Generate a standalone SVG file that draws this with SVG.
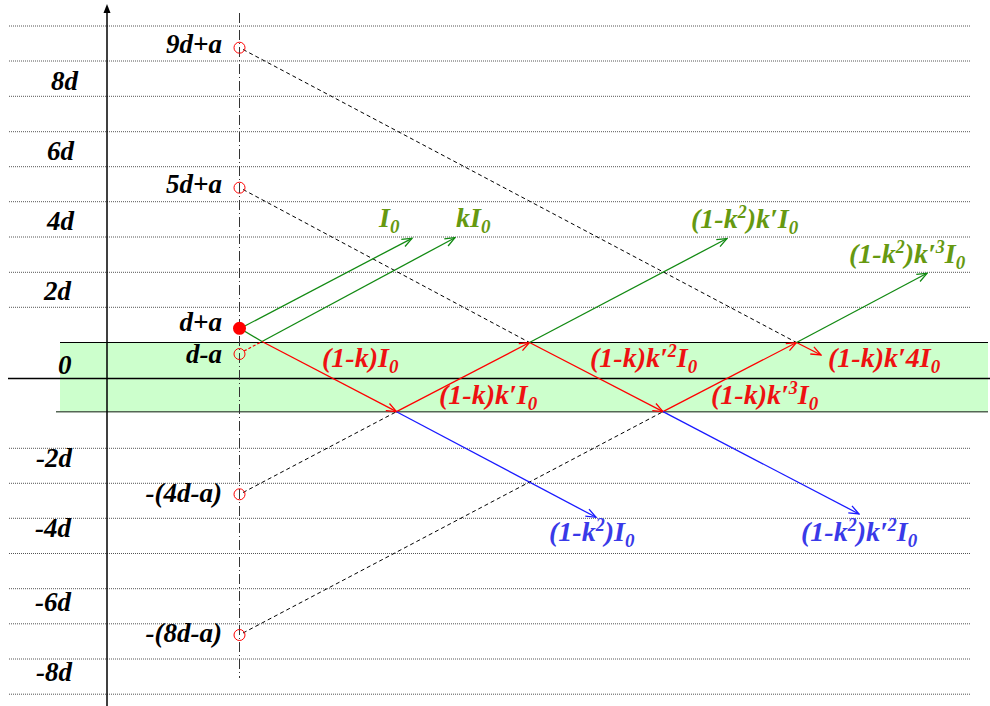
<svg xmlns="http://www.w3.org/2000/svg" width="990" height="706" viewBox="0 0 990 706">
<defs>
<style>
.t{font-family:'Liberation Serif','Times New Roman',serif;font-weight:700;font-style:italic;font-size:27px}
.c{font-size:28px}
.k{fill:#000}
.r{fill:#ee1111}
.g{fill:#669911}
.b{fill:#3a3ae8}
.s{font-size:19px}
.p{font-size:18px}
.grid{stroke:#555;stroke-width:1;stroke-dasharray:1 1;fill:none}
.dash{stroke:#000;stroke-width:1;stroke-dasharray:4 3;fill:none}
.rl{stroke:#ff0000;stroke-width:1.3;fill:none;marker-end:url(#ar)}
.gl{stroke:#138a13;stroke-width:1.3;fill:none;marker-end:url(#ag)}
.bl{stroke:#1a1aff;stroke-width:1.3;fill:none;marker-end:url(#ab)}
.pt{fill:none;stroke:#ff0000;stroke-width:1}
</style>
<marker id="ar" viewBox="0 0 12 10" refX="11" refY="5" markerWidth="12" markerHeight="10" orient="auto" markerUnits="userSpaceOnUse"><path d="M1,1 L11,5 L1,9" fill="none" stroke="#ff0000" stroke-width="1.3"/></marker>
<marker id="ag" viewBox="0 0 12 10" refX="11" refY="5" markerWidth="12" markerHeight="10" orient="auto" markerUnits="userSpaceOnUse"><path d="M1,1 L11,5 L1,9" fill="none" stroke="#138a13" stroke-width="1.3"/></marker>
<marker id="ab" viewBox="0 0 12 10" refX="11" refY="5" markerWidth="12" markerHeight="10" orient="auto" markerUnits="userSpaceOnUse"><path d="M1,1 L11,5 L1,9" fill="none" stroke="#1a1aff" stroke-width="1.3"/></marker>
</defs>
<rect width="990" height="706" fill="#fff"/>
<g id="band">
<rect x="60" y="342.5" width="928" height="69.2" fill="#ccffcc"/>
<line x1="60" y1="342.5" x2="988" y2="342.5" stroke="#000" stroke-width="1.2"/>
<line x1="56" y1="411.7" x2="988" y2="411.7" stroke="#556655" stroke-width="1.5"/>
</g>
<g id="grid">
<path class="grid" d="M9,26H971M9,61H971M9,96.3H971M9,131.7H971M9,166.7H971M9,201.7H971M9,237H971M9,272.3H971M9,307.3H971M9,448.3H971M9,483.3H971M9,518.3H971M9,553.5H971M9,588.7H971M9,623.8H971M9,659H971M9,694.2H971"/>
</g>
<g id="axes">
<line x1="8" y1="378.5" x2="990" y2="378.5" stroke="#000" stroke-width="1.5"/>
<line x1="107" y1="706" x2="107" y2="11" stroke="#000" stroke-width="1.5"/>
<path d="M107,4 L103.5,13 L110.5,13 Z" fill="#000"/>
<line x1="239.5" y1="13" x2="239.5" y2="678" stroke="#333" stroke-width="1" stroke-dasharray="10 3 1 3"/>
</g>
<g id="axis-labels" class="t k" font-family="Liberation Serif, serif">
<text x="51" y="90">8d</text>
<text x="47" y="160">6d</text>
<text x="47" y="230">4d</text>
<text x="44" y="300">2d</text>
<text x="58" y="374">0</text>
<text x="36" y="467">-2d</text>
<text x="35" y="537">-4d</text>
<text x="35" y="611">-6d</text>
<text x="36" y="681">-8d</text>
</g>
<g id="connectors">
<line class="dash" x1="243" y1="49.5" x2="796.5" y2="342.5"/>
<line class="dash" x1="243" y1="189.5" x2="529.5" y2="342.5"/>
<line class="dash" x1="243" y1="492.5" x2="396.5" y2="411.7"/>
<line class="dash" x1="243" y1="633" x2="663" y2="411.7"/>
<line x1="244" y1="351" x2="262" y2="341.5" stroke="#ff0000" stroke-width="1.2" stroke-dasharray="3 2"/>
<line x1="240" y1="328.5" x2="262" y2="341.5" stroke="#138a13" stroke-width="1.3"/>
<line class="gl" x1="240" y1="328.5" x2="412" y2="238.3"/>
<line class="gl" x1="262" y1="341.5" x2="455" y2="237.7"/>
<line class="rl" x1="262" y1="341.5" x2="396.5" y2="411.7"/>
<line class="rl" x1="396.5" y1="411.7" x2="529.5" y2="342.5"/>
<line class="rl" x1="529.5" y1="342.5" x2="663" y2="411.7"/>
<line class="rl" x1="663" y1="411.7" x2="796.5" y2="342.5"/>
<line class="rl" x1="796.5" y1="342.5" x2="821" y2="355"/>
<line class="gl" x1="529.5" y1="342.5" x2="727" y2="238.5"/>
<line class="gl" x1="796.5" y1="342.5" x2="927" y2="273.3"/>
<line class="bl" x1="396.5" y1="411.7" x2="596" y2="517.3"/>
<line class="bl" x1="663" y1="411.7" x2="859" y2="514"/>
</g>
<g id="p9" class="t k"><circle class="pt" cx="239.5" cy="47.7" r="5.5"/><text x="222" y="53" text-anchor="end">9d+a</text></g>
<g id="p5" class="t k"><circle class="pt" cx="239.5" cy="187.7" r="5.5"/><text x="222" y="193" text-anchor="end">5d+a</text></g>
<g id="p1" class="t k"><circle cx="239.5" cy="328.3" r="6.5" fill="#ff0000"/><text x="222" y="331" text-anchor="end">d+a</text></g>
<g id="p1m" class="t k"><circle class="pt" cx="239.5" cy="354" r="5.5"/><text x="222" y="363" text-anchor="end">d-a</text></g>
<g id="n4" class="t k"><circle class="pt" cx="239.5" cy="494.3" r="5.5"/><text x="222" y="502" text-anchor="end">-(4d-a)</text></g>
<g id="n8" class="t k"><circle class="pt" cx="239.5" cy="635" r="5.5"/><text x="222" y="642" text-anchor="end">-(8d-a)</text></g>
<g id="labels-green" class="t c g">
<text x="379" y="227">I<tspan class="s" dy="6">0</tspan></text>
<text x="456" y="227">kI<tspan class="s" dy="6">0</tspan></text>
<text x="691" y="228">(1-k<tspan class="p" dy="-10">2</tspan><tspan dy="10">)k′I</tspan><tspan class="s" dy="6">0</tspan></text>
<text x="849" y="263">(1-k<tspan class="p" dy="-10">2</tspan><tspan dy="10">)k′</tspan><tspan class="p" dy="-10">3</tspan><tspan dy="10">I</tspan><tspan class="s" dy="6">0</tspan></text>
</g>
<g id="labels-red" class="t c r">
<text x="322" y="367">(1-k)I<tspan class="s" dy="6">0</tspan></text>
<text x="439" y="404">(1-k)k′I<tspan class="s" dy="6">0</tspan></text>
<text x="590" y="367">(1-k)k′<tspan class="p" dy="-10">2</tspan><tspan dy="10">I</tspan><tspan class="s" dy="6">0</tspan></text>
<text x="711" y="404">(1-k)k′<tspan class="p" dy="-10">3</tspan><tspan dy="10">I</tspan><tspan class="s" dy="6">0</tspan></text>
<text x="828" y="367">(1-k)k′4I<tspan class="s" dy="6">0</tspan></text>
</g>
<g id="labels-blue" class="t c b">
<text x="549" y="541">(1-k<tspan class="p" dy="-10">2</tspan><tspan dy="10">)I</tspan><tspan class="s" dy="6">0</tspan></text>
<text x="801" y="541">(1-k<tspan class="p" dy="-10">2</tspan><tspan dy="10">)k′</tspan><tspan class="p" dy="-10">2</tspan><tspan dy="10">I</tspan><tspan class="s" dy="6">0</tspan></text>
</g>
</svg>
